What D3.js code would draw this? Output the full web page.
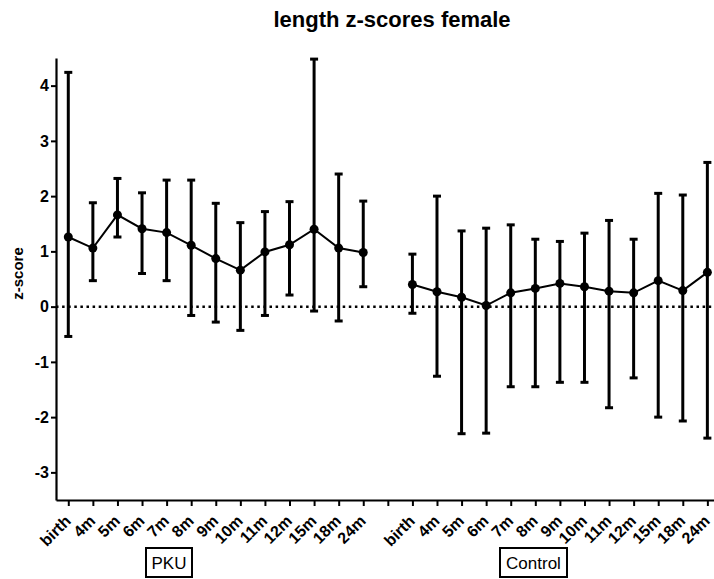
<!DOCTYPE html>
<html>
<head>
<meta charset="utf-8">
<script src="https://cdn.jsdelivr.net/npm/d3@7"></script>
<style>
  body { margin: 0; background: #fff; }
  svg { display: block; font-family: "Liberation Sans", Arial, sans-serif; }
</style>
</head>
<body>
<div id="chart"></div>
<script>
// time points for each group
const timepoints = ['birth', '4m', '5m', '6m', '7m', '8m', '9m', '10m', '11m', '12m', '15m', '18m', '24m'];

// PKU group: mean and error bar ends
const pkuMean  = [1.26, 1.06, 1.66, 1.41, 1.34, 1.11, 0.87, 0.66, 0.99, 1.12, 1.40, 1.06, 0.98];
const pkuUpper = [4.24, 1.88, 2.32, 2.06, 2.29, 2.29, 1.87, 1.52, 1.72, 1.90, 4.48, 2.40, 1.91];
const pkuLower = [-0.54, 0.47, 1.26, 0.60, 0.47, -0.16, -0.28, -0.43, -0.16, 0.21, -0.08, -0.26, 0.36];

// Control group
const ctrlMean  = [0.40, 0.27, 0.17, 0.02, 0.25, 0.33, 0.42, 0.36, 0.28, 0.25, 0.47, 0.29, 0.62];
const ctrlUpper = [0.95, 2.00, 1.37, 1.42, 1.48, 1.22, 1.18, 1.33, 1.56, 1.22, 2.05, 2.02, 2.61];
const ctrlLower = [-0.12, -1.26, -2.30, -2.29, -1.45, -1.45, -1.37, -1.37, -1.83, -1.29, -2.00, -2.07, -2.38];

const yTicks = [-3, -2, -1, 0, 1, 2, 3, 4];

const width = 714;
const height = 579;
const marginLeft = 56;
const plotTop = 58;
const plotBottom = 500;

const svg = d3.select('#chart').append('svg')
    .attr('width', width)
    .attr('height', height);

// one slot per time point plus an empty slot between the groups
const keys = timepoints.map(t => 'PKU|' + t)
    .concat(['gap'])
    .concat(timepoints.map(t => 'Control|' + t));

const step = 24.58;
const x = d3.scalePoint()
    .domain(keys)
    .range([marginLeft, marginLeft + keys.length * step])
    .padding(0.5);

const y = d3.scaleLinear()
    .domain([-3.5, 4.5])
    .range([plotBottom, plotTop]);

const groups = [
  {name: 'PKU', mean: pkuMean, upper: pkuUpper, lower: pkuLower},
  {name: 'Control', mean: ctrlMean, upper: ctrlUpper, lower: ctrlLower}
];

// title
svg.append('text')
    .attr('x', 392)
    .attr('y', 27)
    .attr('text-anchor', 'middle')
    .style('font-size', '22px')
    .style('font-weight', 'bold')
    .text('length z-scores female');

// dotted zero line
svg.append('line')
    .attr('x1', marginLeft).attr('x2', width)
    .attr('y1', y(0)).attr('y2', y(0))
    .attr('stroke', '#000')
    .attr('stroke-width', 2.5)
    .attr('stroke-dasharray', '2.5,3.6');

// y axis
const yAxis = svg.append('g')
    .attr('transform', `translate(${marginLeft},0)`)
    .call(d3.axisLeft(y).tickValues(yTicks).tickSize(5).tickSizeOuter(0).tickFormat(d => String(d)));
yAxis.select('.domain').attr('stroke-width', 2.2);
yAxis.selectAll('.tick line').attr('stroke-width', 2);
yAxis.selectAll('.tick text')
    .attr('x', -7)
    .style('font-family', '"Liberation Sans", Arial, sans-serif')
    .style('font-size', '16px')
    .style('font-weight', 'bold');

svg.append('text')
    .attr('transform', `translate(23,${y(0.6)}) rotate(-90)`)
    .attr('text-anchor', 'middle')
    .style('font-size', '15px')
    .style('font-weight', 'bold')
    .text('z-score');

// x axis
const xAxis = svg.append('g')
    .attr('transform', `translate(0,${plotBottom})`)
    .call(d3.axisBottom(x).tickSize(6).tickSizeOuter(0).tickFormat(d => d === 'gap' ? '' : d.split('|')[1]));
xAxis.select('.domain').attr('stroke-width', 2.2);
xAxis.selectAll('.tick line').attr('stroke-width', 2);
xAxis.selectAll('.tick text')
    .attr('y', 0)
    .attr('dy', 0)
    .attr('text-anchor', 'end')
    .attr('transform', 'translate(3,22) rotate(-45)')
    .style('font-family', '"Liberation Sans", Arial, sans-serif')
    .style('font-size', '16px')
    .style('font-weight', 'bold');

// error bars, lines and markers
groups.forEach(g => {
  const pts = timepoints.map((t, i) => ({
    cx: x(g.name + '|' + t), m: g.mean[i], hi: g.upper[i], lo: g.lower[i]
  }));
  const layer = svg.append('g');

  layer.selectAll('line.bar').data(pts).enter().append('line')
      .attr('class', 'bar')
      .attr('x1', d => d.cx).attr('x2', d => d.cx)
      .attr('y1', d => y(d.hi)).attr('y2', d => y(d.lo))
      .attr('stroke', '#000').attr('stroke-width', 3);

  ['hi', 'lo'].forEach(k => {
    layer.selectAll('line.cap-' + k).data(pts).enter().append('line')
        .attr('class', 'cap-' + k)
        .attr('x1', d => d.cx - 4).attr('x2', d => d.cx + 4)
        .attr('y1', d => y(d[k])).attr('y2', d => y(d[k]))
        .attr('stroke', '#000').attr('stroke-width', 3);
  });

  layer.append('path')
      .datum(pts)
      .attr('fill', 'none')
      .attr('stroke', '#000')
      .attr('stroke-width', 2)
      .attr('d', d3.line().x(d => d.cx).y(d => y(d.m)));

  layer.selectAll('circle').data(pts).enter().append('circle')
      .attr('cx', d => d.cx)
      .attr('cy', d => y(d.m))
      .attr('r', 4.5)
      .attr('fill', '#000');
});

// group labels in boxes
const boxes = [
  {label: 'PKU', x: 146, w: 46},
  {label: 'Control', x: 500, w: 67}
];
const box = svg.selectAll('g.box').data(boxes).enter().append('g').attr('class', 'box');
box.append('rect')
    .attr('x', d => d.x).attr('y', 548)
    .attr('width', d => d.w).attr('height', 29)
    .attr('fill', 'none').attr('stroke', '#000').attr('stroke-width', 2);
box.append('text')
    .attr('x', d => d.x + d.w / 2).attr('y', 569)
    .attr('text-anchor', 'middle')
    .style('font-size', '17px')
    .text(d => d.label);
</script>
</body>
</html>
